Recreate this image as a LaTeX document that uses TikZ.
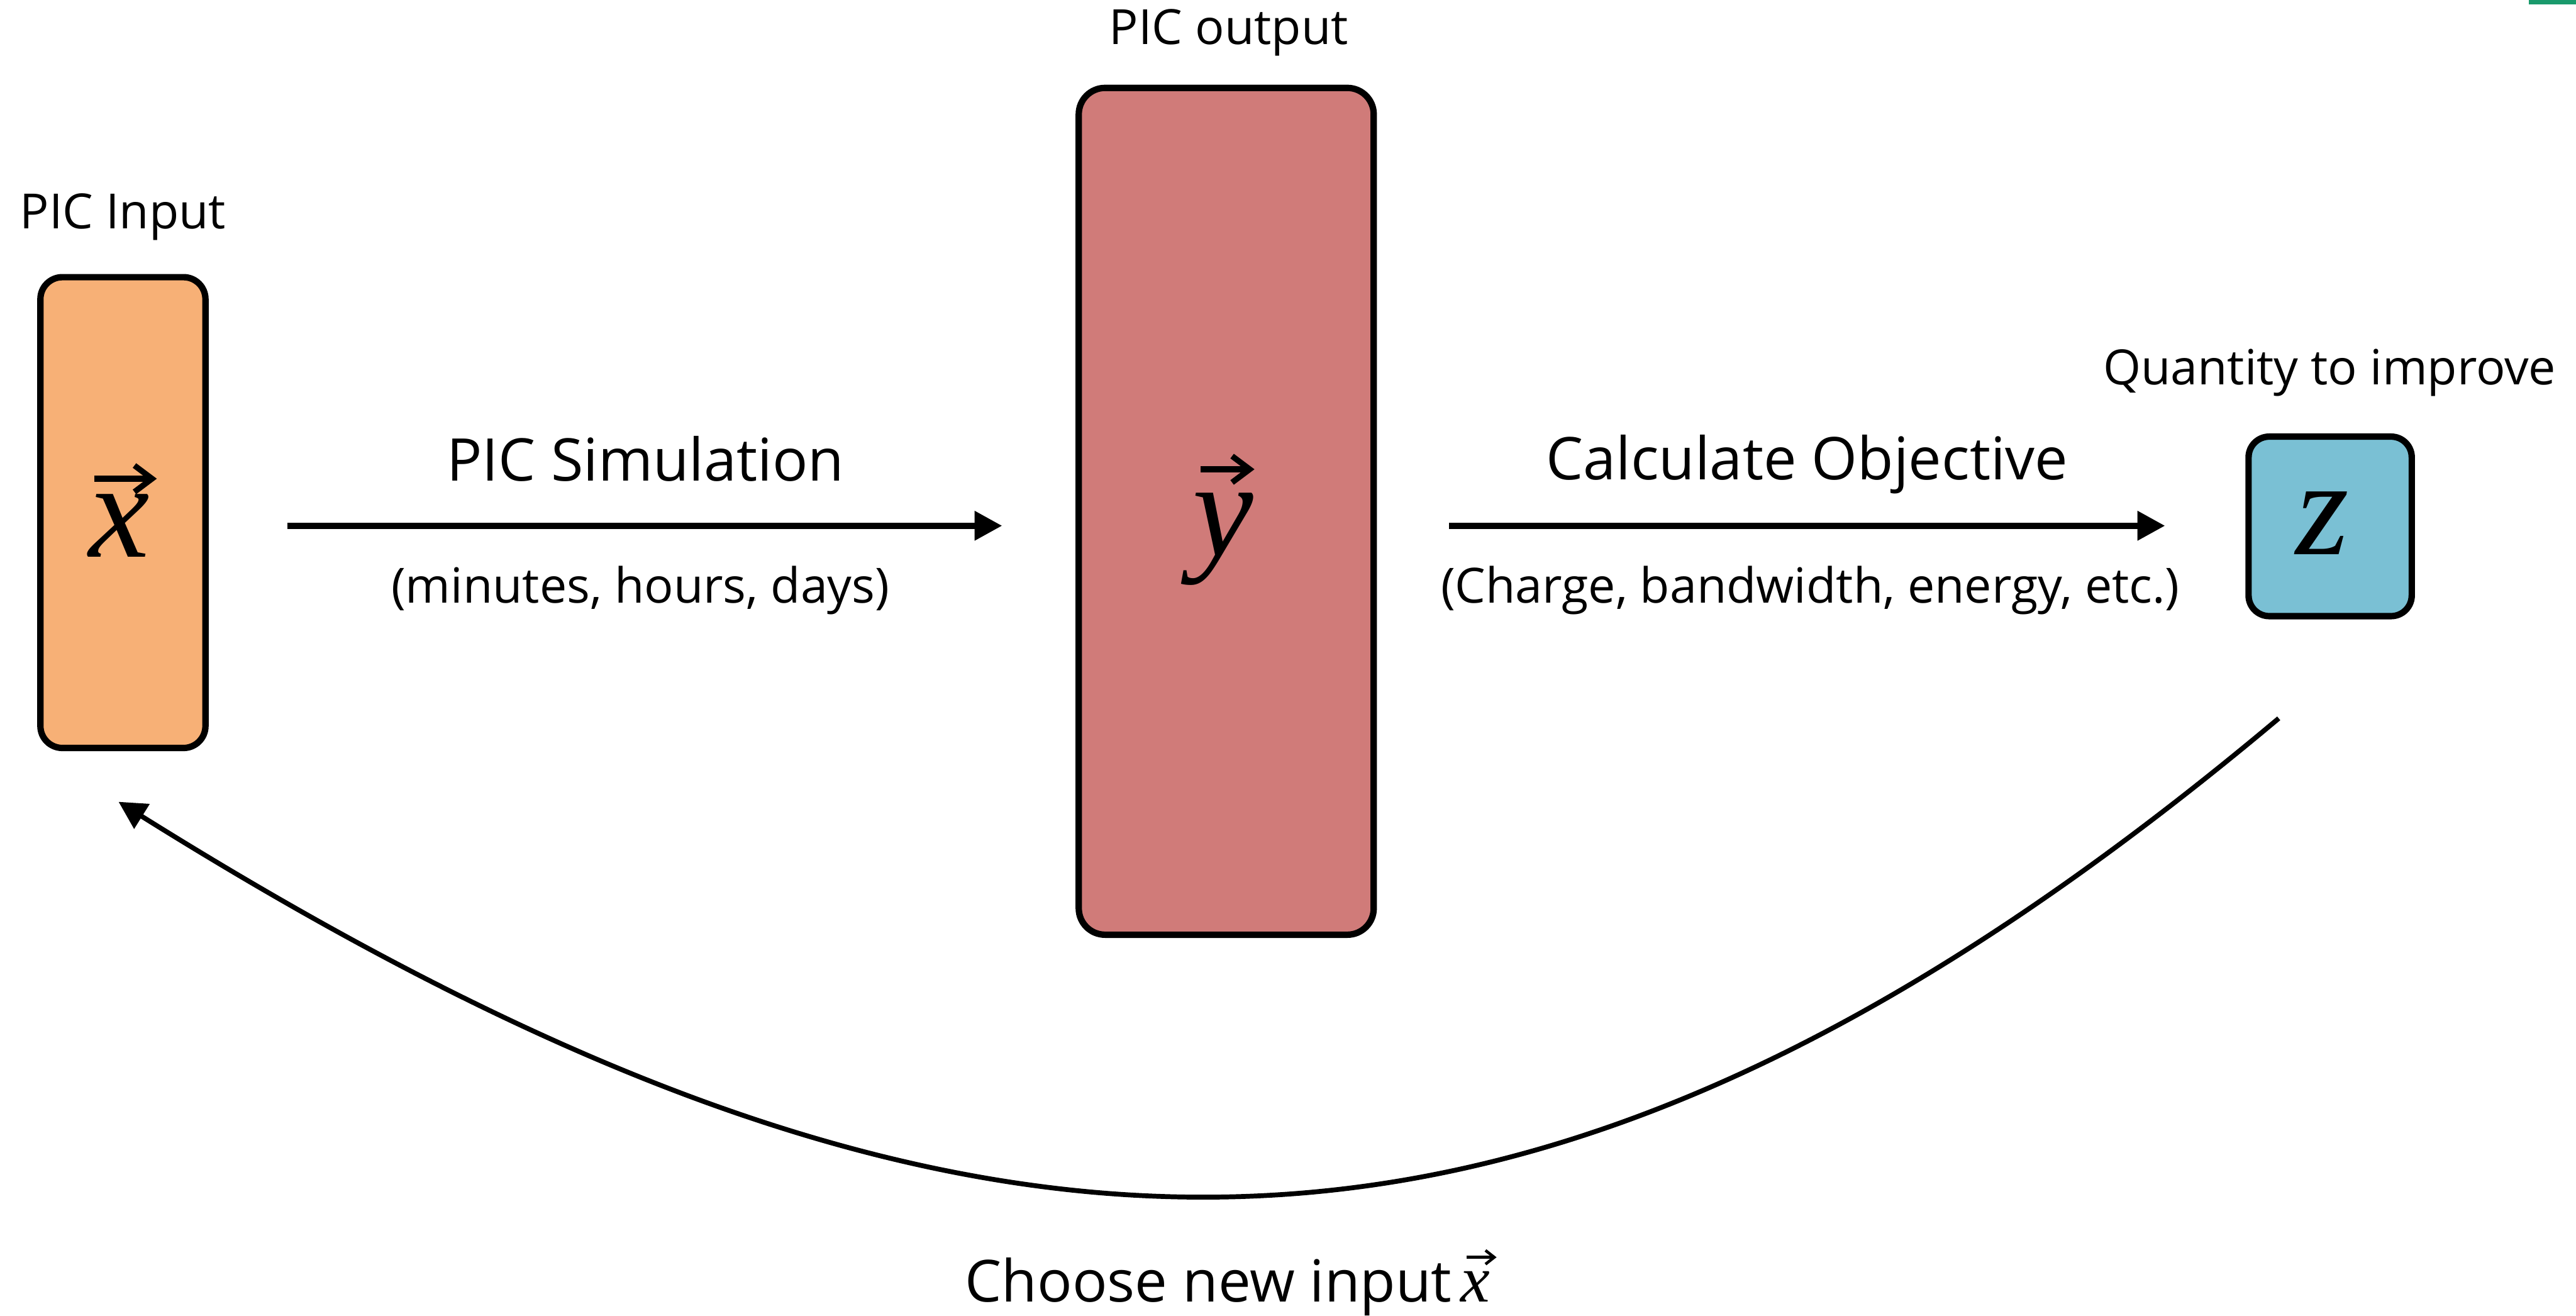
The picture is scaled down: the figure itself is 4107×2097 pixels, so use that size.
\documentclass[tikz,border=0pt]{standalone}
\usepackage{fontspec}
\setmainfont{Open Sans}
\newfontfamily\tms{Liberation Serif}
\usetikzlibrary{arrows.meta}
\definecolor{cin}{RGB}{247,176,118}
\definecolor{cout}{RGB}{208,123,121}
\definecolor{cobj}{RGB}{122,192,212}
\definecolor{cgreen}{RGB}{26,154,108}
\tikzset{
  box/.style={draw=black, line width=2.9pt, rounded corners=0.35cm, inner sep=0pt},
  flow/.style={line width=2.8pt, -{Triangle[length=0.44cm,width=0.45cm]}},
  loopline/.style={line width=2.2pt, -{Triangle[length=0.44cm,width=0.45cm]}},
  big/.style={font=\fontsize{26.7}{30}\selectfont},
  bottomlabel/.style={font=\fontsize{26.3}{30}\selectfont},
  small/.style={font=\fontsize{22}{26}\selectfont},
  title/.style={font=\fontsize{22}{26}\selectfont},
  sym/.style={inner sep=0pt, font=\tms\itshape\fontsize{62}{62}\selectfont},
  smallsym/.style={inner sep=0pt, font=\tms\itshape\fontsize{30}{30}\selectfont},
  vecarrow/.style={line width=2.6pt, -{Straight Barb[length=0.28cm,width=0.42cm]}},
  smallvecarrow/.style={line width=1.3pt, -{Straight Barb[length=0.14cm,width=0.22cm]}}
}
\begin{document}
\begin{tikzpicture}[x=0.01cm,y=-0.01cm]
\useasboundingbox (0,0) rectangle (4107,2097);
\fill[cgreen] (4032,0) rectangle (4107,7);
% boxes
\node[box, fill=cin, minimum width=2.63cm, minimum height=7.5cm] (xin) at (196,817) {};
\node[box, fill=cout, minimum width=4.7cm, minimum height=13.49cm, rounded corners=0.42cm] (yout) at (1955,815) {};
\node[box, fill=cobj, minimum width=2.6cm, minimum height=2.86cm, rounded corners=0.33cm] (zobj) at (3715,839) {};
% symbols
\node[sym, anchor=base] (xs) at (190,888) {x};
\coordinate (xa1) at (150,763);
\coordinate (xa2) at (250,763);
\draw[vecarrow] (xa1) -- (xa2);
\node[sym, anchor=base] (ys) at (1950,886) {y};
\coordinate (ya1) at (1914,748);
\coordinate (ya2) at (2000,748);
\draw[vecarrow] (ya1) -- (ya2);
\node[sym, anchor=base] (zs) at (3703,884) {z};
% titles
\node[title, anchor=base] (tin) at (196,364) {PIC Input};
\node[title, anchor=base] (tout) at (1959,71) {PIC output};
\node[title, anchor=base] (tobj) at (3714,613) {Quantity to improve};
% arrows
\draw[flow] ([xshift=1.25cm]xin.east |- 0,838) -- ([xshift=-1.17cm]yout.west |- 0,838);
\draw[flow] ([xshift=1.15cm]yout.east |- 0,838) -- ([xshift=-1.28cm]zobj.west |- 0,838);
\node[big, anchor=base] (l1) at (1029,767) {PIC Simulation};
\node[small, anchor=base] (l1b) at (1021,961) {(minutes, hours, days)};
\node[big, anchor=base] (l2) at (2881,765) {Calculate Objective};
\node[small, anchor=base] (l2b) at (2886,961) {(Charge, bandwidth, energy, etc.)};
% feedback loop
\coordinate (cs) at (3633,1145);
\coordinate (ce) at (189,1278);
\draw[loopline] (cs) .. controls (2453,2135) and (1560,2135) .. (ce);
\node[bottomlabel, anchor=base west, inner sep=0pt] (l3) at (1538,2075) {Choose new input};
\node[smallsym, anchor=base west] (l3x) at (2328,2075) {x};
\coordinate (la1) at (2338,2004);
\coordinate (la2) at (2386,2004);
\draw[smallvecarrow] (la1) -- (la2);
\end{tikzpicture}
\end{document}
